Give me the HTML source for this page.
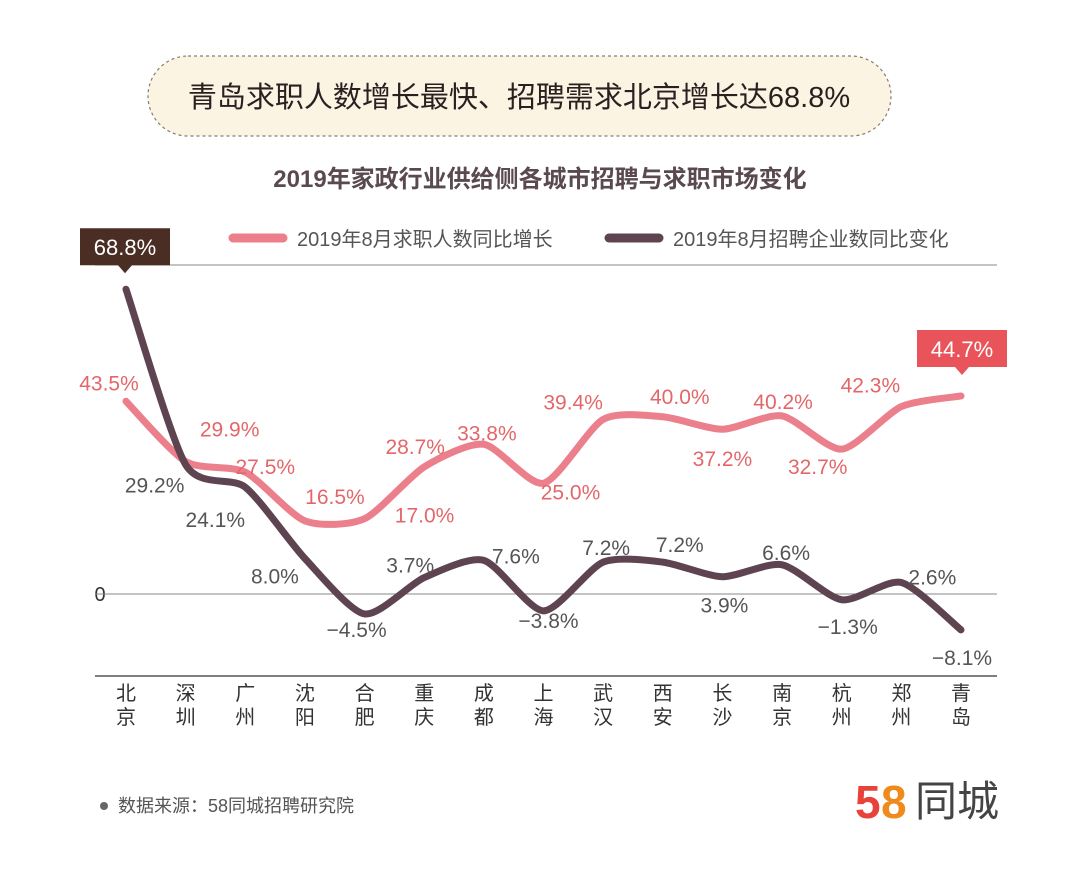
<!DOCTYPE html>
<html><head><meta charset="utf-8">
<style>
body{margin:0;background:#fff;}
svg text{font-family:"Liberation Sans","Noto Sans CJK SC",sans-serif;}
</style></head>
<body>
<svg id="c" width="1080" height="872" viewBox="0 0 1080 872" xmlns="http://www.w3.org/2000/svg">
<rect x="148" y="56" width="743" height="80" rx="40" fill="#fbf4e3" stroke="#8a7a6a" stroke-width="1.2" stroke-dasharray="3,3"/>
<text x="519" y="107" text-anchor="middle" font-size="29" fill="#2a2020">青岛求职人数增长最快、招聘需求北京增长达68.8%</text>
<text x="540" y="187" text-anchor="middle" font-size="24" fill="#5a4a50" font-weight="bold">2019年家政行业供给侧各城市招聘与求职市场变化</text>
<g>
<line x1="233" y1="238" x2="283" y2="238" stroke="#ec7f8c" stroke-width="9" stroke-linecap="round"/>
<text x="297" y="246" font-size="20" fill="#555">2019年8月求职人数同比增长</text>
<line x1="609" y1="238" x2="659" y2="238" stroke="#5e4450" stroke-width="9" stroke-linecap="round"/>
<text x="673" y="246" font-size="20" fill="#555">2019年8月招聘企业数同比变化</text>
</g>
<line x1="95" y1="265" x2="997" y2="265" stroke="#888" stroke-width="1"/>
<line x1="95" y1="676" x2="997" y2="676" stroke="#333" stroke-width="1.2"/>
<text x="100" y="601" text-anchor="middle" font-size="20" fill="#333">0</text>
<g id="marks"></g>
<circle cx="104" cy="806" r="4" fill="#666"/>
<text x="118" y="812" font-size="18" fill="#555">数据来源：58同城招聘研究院</text>
<g>
<text x="855" y="818" font-size="46" font-weight="bold" fill="#e8423b">5</text>
<text x="881" y="818" font-size="46" font-weight="bold" fill="#f08a1d">8</text>
<text x="915" y="816" font-size="42" fill="#444">同城</text>
</g>
</svg>
<script>
const cities=["北京","深圳","广州","沈阳","合肥","重庆","成都","上海","武汉","西安","长沙","南京","杭州","郑州","青岛"];
const seekers=[43.5,29.9,27.5,16.5,17.0,28.7,33.8,25.0,39.4,40.0,37.2,40.2,32.7,42.3,44.7];
const employers=[68.8,29.2,24.1,8.0,-4.5,3.7,7.6,-3.8,7.2,7.2,3.9,6.6,-1.3,2.6,-8.1];
const seekerLabelOff=[[-17,-11],[44,-25],[20,2],[30,-17],[60,4],[-9,-13],[3,-4],[27,16],[-30,-10],[17,-13],[0,37],[1,-7],[-24,25],[-31,-14],[null]];
const employerLabelOff=[[null],[-31,28],[-30,40],[-30,25],[-8,23],[-14,-5],[32,3],[5,17],[3,-7],[17,-10],[2,36],[4,-5],[6,34],[31,2],[1,35]];
const NS="http://www.w3.org/2000/svg";
const g=document.getElementById('marks');
const x=i=>126+i*(961-126)/(cities.length-1);
const y=v=>594-v*4.43;
function mk(t,a){const e=document.createElementNS(NS,t);for(const k in a)e.setAttribute(k,a[k]);g.appendChild(e);return e;}
let zl=mk('line',{x1:95,y1:y(0),x2:997,y2:y(0),stroke:'#888','stroke-width':1});


cities.forEach((c,i)=>{
 let t=mk('text',{x:x(i),y:700,'text-anchor':'middle','font-size':20,fill:'#333'});
 
 
 const s1=document.createElementNS(NS,'tspan');s1.setAttribute('x',x(i));s1.textContent=c[0];t.appendChild(s1);
 const s2=document.createElementNS(NS,'tspan');s2.setAttribute('x',x(i));s2.setAttribute('dy',24);s2.textContent=c[1];t.appendChild(s2);
});
function path(vals){
 const p=vals.map((v,i)=>[x(i),y(v)]);
 let d='M'+p[0][0]+','+p[0][1];
 for(let i=0;i<p.length-1;i++){
  const p0=p[Math.max(0,i-1)],p1=p[i],p2=p[i+1],p3=p[Math.min(p.length-1,i+2)];
  const k=0.12;
  d+=' C'+(p1[0]+(p2[0]-p0[0])*k)+','+(p1[1]+(p2[1]-p0[1])*k)+' '+(p2[0]-(p3[0]-p1[0])*k)+','+(p2[1]-(p3[1]-p1[1])*k)+' '+p2[0]+','+p2[1];
 }
 return d;
}
let l1=mk('path',{d:path(seekers),fill:'none',stroke:'#ec7f8c','stroke-width':7,'stroke-linecap':'round'});


let l2=mk('path',{d:path(employers),fill:'none',stroke:'#5e4450','stroke-width':7,'stroke-linecap':'round'});


const fmt=v=>(v<0?'−'+Math.abs(v).toFixed(1):v.toFixed(1))+'%';
seekers.forEach((v,i)=>{
 const o=seekerLabelOff[i]; if(o[0]===null) return;
 let t=mk('text',{x:x(i)+o[0],y:y(v)+o[1],'text-anchor':'middle','font-size':21,fill:'#e3676a'});
 t.textContent=fmt(v);
 
 
});
employers.forEach((v,i)=>{
 const o=employerLabelOff[i]; if(o[0]===null) return;
 let t=mk('text',{x:x(i)+o[0],y:y(v)+o[1],'text-anchor':'middle','font-size':21,fill:'#555'});
 t.textContent=fmt(v);
 
 
});
function flag(cx,py,txt,col,name){
 const w=90,h=37,top=py-56;
 let r=mk('path',{d:`M${cx-w/2},${top} h${w} v${h} h-${w/2-7} l-7,8 l-7,-8 h-${w/2-7} z`,fill:col});
 
 
 let t=mk('text',{x:cx,y:top+27,'text-anchor':'middle','font-size':22,fill:'#fff'});
 t.textContent=txt;
 
 
}
const last=seekers.length-1;
flag(x(0)-1,y(employers[0])-5,fmt(employers[0]),'#4a2e24','max-employers-callout');
flag(x(last)+1,y(seekers[last])-10,fmt(seekers[last]),'#e8545a','max-seekers-callout');
</script>
</body></html>
